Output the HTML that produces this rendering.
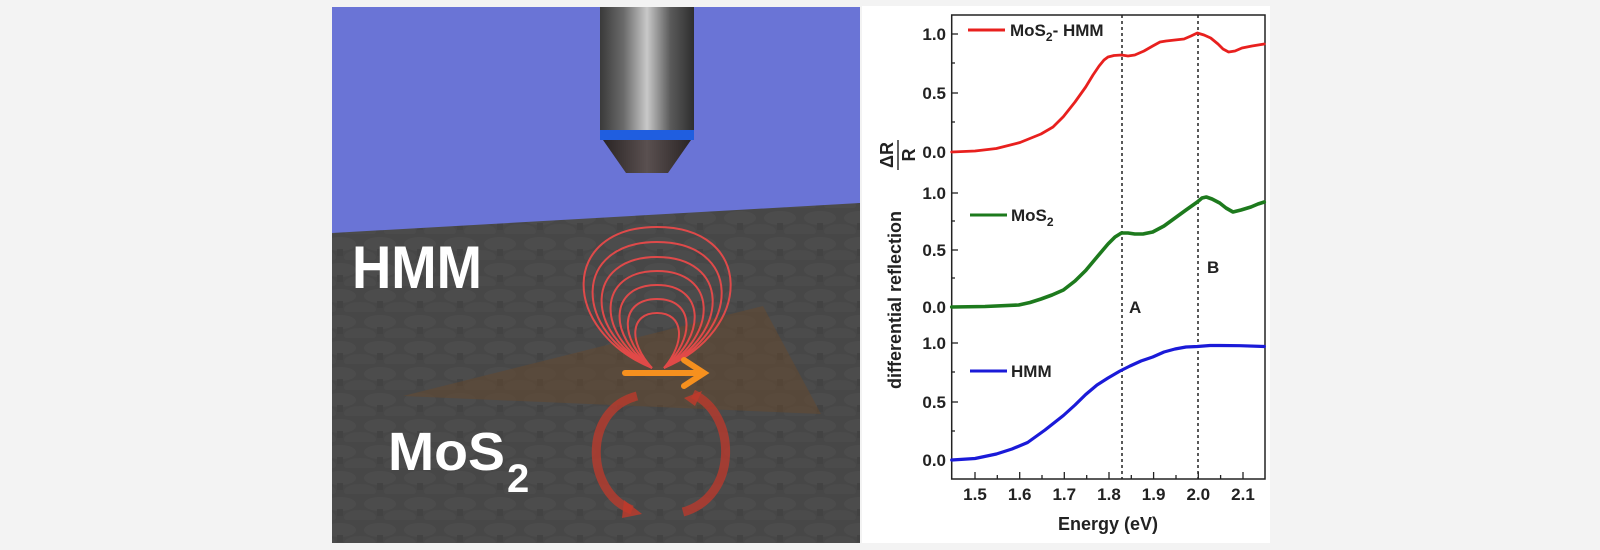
<!DOCTYPE html>
<html><head><meta charset="utf-8"><style>
html,body{margin:0;padding:0;background:#f3f3f3;}
svg{display:block;font-family:"Liberation Sans",Arial,sans-serif;}
</style></head><body>
<svg width="1600" height="550" viewBox="0 0 1600 550" xmlns="http://www.w3.org/2000/svg">
<defs>
<linearGradient id="obj" x1="0" x2="1" y1="0" y2="0">
<stop offset="0" stop-color="#3a3a3a"/><stop offset="0.25" stop-color="#6a6a6a"/><stop offset="0.5" stop-color="#c8c8c8"/><stop offset="0.75" stop-color="#5a5a5a"/><stop offset="1" stop-color="#2e2e2e"/>
</linearGradient>
<linearGradient id="tip" x1="0" x2="1" y1="0" y2="0">
<stop offset="0" stop-color="#2a2424"/><stop offset="0.5" stop-color="#5a5050"/><stop offset="1" stop-color="#2a2424"/>
</linearGradient>
<pattern id="hex" width="40" height="26" patternUnits="userSpaceOnUse">
<ellipse cx="20" cy="10" rx="16" ry="7" fill="#525252"/>
<rect x="17" y="15" width="6" height="7" fill="#3f3f3f"/>
<ellipse cx="0" cy="23" rx="16" ry="7" fill="#4f4f4f"/>
<ellipse cx="40" cy="23" rx="16" ry="7" fill="#4f4f4f"/>
</pattern>
</defs>
<rect x="0" y="0" width="1600" height="550" fill="#f3f3f3"/>
<rect x="332" y="7" width="528" height="536" fill="#474747"/>
<rect x="332" y="7" width="528" height="536" fill="url(#hex)" opacity="0.5"/>
<polygon points="332,7 860,7 860,203 332,233" fill="#6a74d6"/>
<rect x="600" y="7" width="94" height="126" fill="url(#obj)"/>
<rect x="600" y="130" width="94" height="10" fill="#1f5ee0"/>
<polygon points="603,140 691,140 668,173 626,173" fill="url(#tip)"/>
<polygon points="403,396 763,306 821,414" fill="#6b4a2a" opacity="0.45"/>
<g fill="none" stroke="#f04a4a" stroke-width="2" opacity="0.9">
<path d="M652,368 C560,330 560,227 657,227 C754,227 754,330 664,368"/>
<path d="M652,368 C571,330 573,242 657,242 C741,242 743,330 664,368"/>
<path d="M652,368 C583,332 585,257 657,257 C729,257 731,332 664,368"/>
<path d="M652,368 C595,334 597,271 657,271 C717,271 719,334 664,368"/>
<path d="M652,368 C607,336 609,285 657,285 C705,285 707,336 664,368"/>
<path d="M652,368 C618,338 620,299 657,299 C694,299 696,338 664,368"/>
<path d="M652,368 C628,342 630,313 657,313 C684,313 686,342 664,368"/>
</g>
<g stroke="#f6901e" stroke-width="6" fill="none" stroke-linecap="round">
<line x1="625" y1="373" x2="702" y2="373"/>
<polyline points="684,360 704,373 684,386"/>
</g>
<g fill="none" stroke="#c0392b" stroke-width="9" opacity="0.75">
<path d="M637,396 C582,410 585,492 632,510"/>
<path d="M683,512 C738,497 738,415 693,394"/>
</g>
<polygon points="624,500 642,514 622,518" fill="#c0392b" opacity="0.8"/>
<polygon points="684,398 702,391 695,406" fill="#c0392b" opacity="0.8"/>
<text x="352" y="288" font-size="60" font-weight="bold" fill="#fff" textLength="130" lengthAdjust="spacingAndGlyphs">HMM</text>
<text x="388" y="470" font-size="54" font-weight="bold" fill="#fff" textLength="117" lengthAdjust="spacingAndGlyphs">MoS</text>
<text x="507" y="492" font-size="40" font-weight="bold" fill="#fff">2</text>
<rect x="862" y="6" width="408" height="537" fill="#fff"/>
<rect x="951.7" y="15" width="313.3" height="464" fill="none" stroke="#222" stroke-width="1.5"/>
<g stroke="#222" stroke-dasharray="3,3" stroke-width="1.5">
<line x1="1122" y1="15" x2="1122" y2="479"/>
<line x1="1198" y1="15" x2="1198" y2="479"/>
</g>
<g stroke="#222" stroke-width="1.3">
<line x1="975" y1="479" x2="975" y2="472"/><line x1="1019.7" y1="479" x2="1019.7" y2="472"/><line x1="1064.3" y1="479" x2="1064.3" y2="472"/><line x1="1109" y1="479" x2="1109" y2="472"/><line x1="1153.6" y1="479" x2="1153.6" y2="472"/><line x1="1198.3" y1="479" x2="1198.3" y2="472"/><line x1="1243" y1="479" x2="1243" y2="472"/>
<line x1="997.3" y1="479" x2="997.3" y2="475"/><line x1="1042" y1="479" x2="1042" y2="475"/><line x1="1086.7" y1="479" x2="1086.7" y2="475"/><line x1="1131.3" y1="479" x2="1131.3" y2="475"/><line x1="1176" y1="479" x2="1176" y2="475"/><line x1="1220.6" y1="479" x2="1220.6" y2="475"/>
<line x1="951.7" y1="34" x2="958" y2="34"/><line x1="951.7" y1="93" x2="958" y2="93"/><line x1="951.7" y1="152" x2="958" y2="152"/>
<line x1="951.7" y1="193" x2="958" y2="193"/><line x1="951.7" y1="250" x2="958" y2="250"/><line x1="951.7" y1="307" x2="958" y2="307"/>
<line x1="951.7" y1="343" x2="958" y2="343"/><line x1="951.7" y1="402" x2="958" y2="402"/><line x1="951.7" y1="460" x2="958" y2="460"/>
<line x1="951.7" y1="63" x2="955" y2="63"/><line x1="951.7" y1="122" x2="955" y2="122"/><line x1="951.7" y1="221" x2="955" y2="221"/><line x1="951.7" y1="278" x2="955" y2="278"/><line x1="951.7" y1="372" x2="955" y2="372"/><line x1="951.7" y1="431" x2="955" y2="431"/>
</g>
<g font-size="17" font-weight="bold" fill="#222" text-anchor="end">
<text x="946" y="40">1.0</text><text x="946" y="99">0.5</text><text x="946" y="158">0.0</text>
<text x="946" y="199">1.0</text><text x="946" y="256">0.5</text><text x="946" y="313">0.0</text>
<text x="946" y="349">1.0</text><text x="946" y="408">0.5</text><text x="946" y="466">0.0</text>
</g>
<g font-size="17" font-weight="bold" fill="#222" text-anchor="middle">
<text x="975" y="500">1.5</text><text x="1019.7" y="500">1.6</text><text x="1064.3" y="500">1.7</text><text x="1109" y="500">1.8</text><text x="1153.6" y="500">1.9</text><text x="1198.3" y="500">2.0</text><text x="1243" y="500">2.1</text>
<text x="1108" y="530" font-size="18">Energy (eV)</text>
</g>
<text transform="translate(901,300) rotate(-90)" text-anchor="middle" font-size="18" font-weight="bold" fill="#222">differential reflection</text>
<g font-size="18" font-weight="bold" fill="#222" text-anchor="middle">
<text transform="translate(893,155) rotate(-90)">ΔR</text>
<line x1="898" y1="140" x2="898" y2="170" stroke="#222" stroke-width="1.4"/>
<text transform="translate(915,155) rotate(-90)">R</text>
</g>
<g fill="none" stroke-linejoin="round" stroke-linecap="round">
<polyline stroke="#e8201e" stroke-width="2.8" points="951.7,152 975,151 996.4,148.5 1020,142.5 1041,134 1053,127 1063.4,116.6 1075,102 1085.7,87 1093,75 1099.1,66 1104,60 1108,57 1114,55.5 1121.4,55 1128,56 1134.8,55 1144,51 1152.7,46 1160,42 1166.1,41 1175,40 1184,39 1191,36 1197.3,33 1204,35 1210.7,38 1218,44 1223,49 1228.6,52 1235,51 1242,48 1252,46 1264.3,44"/>
<polyline stroke="#1d7a1d" stroke-width="3.6" points="951.7,307 985,306.5 1018.7,305 1030,302.5 1041,299 1052,295 1063.4,290 1075,281 1085.7,270.5 1097,257 1108,244 1115,237 1121.4,233 1128,233 1134.8,234 1143,234 1152.7,232 1164,226 1175,218 1186,210 1197.3,202 1202,198 1206.3,197 1212,199 1219.7,203 1226,208 1233,212 1241,210 1250.9,207 1258,204 1264.3,202"/>
<polyline stroke="#1a1ad8" stroke-width="3.2" points="951.7,460 975,458.5 996.4,454 1012,449 1027.6,442.5 1045,430 1063.4,415.5 1075,405 1085.7,394.5 1097,385 1108,378 1120,371 1130,366 1141,361 1152.7,357 1164,352 1175,349 1186,347 1197.3,346.5 1210,345.5 1219.7,345.5 1240,345.7 1264.3,346.5"/>
</g>
<line x1="968" y1="30" x2="1005" y2="30" stroke="#e8201e" stroke-width="3"/>
<text x="1010" y="36" font-size="17" font-weight="bold" fill="#222">MoS<tspan font-size="12" dy="5">2</tspan><tspan dy="-5">- HMM</tspan></text>
<line x1="970" y1="215" x2="1007" y2="215" stroke="#1d7a1d" stroke-width="3"/>
<text x="1011" y="221" font-size="17" font-weight="bold" fill="#222">MoS<tspan font-size="12" dy="5">2</tspan></text>
<line x1="970" y1="371" x2="1007" y2="371" stroke="#1a1ad8" stroke-width="3"/>
<text x="1011" y="377" font-size="17" font-weight="bold" fill="#222">HMM</text>
<text x="1129" y="313" font-size="17" font-weight="bold" fill="#222">A</text>
<text x="1207" y="273" font-size="17" font-weight="bold" fill="#222">B</text>
</svg>
</body></html>
